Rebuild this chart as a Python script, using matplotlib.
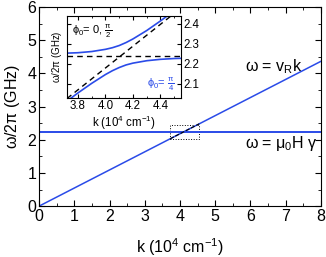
import matplotlib
matplotlib.use("Agg")
import matplotlib.pyplot as plt
from matplotlib.patches import Rectangle

plt.rcParams['font.family'] = ['Liberation Sans', 'DejaVu Sans']
plt.rcParams['mathtext.fontset'] = 'custom'
plt.rcParams['mathtext.rm'] = 'Liberation Sans'
plt.rcParams['mathtext.it'] = 'Liberation Sans'

blue = '#2a4be8'

# main plot lines (endpoints)
k_line = [0, 8]
w_rayleigh = [0, 4.36]
w_fmr = [2.24, 2.24]

# inset: uncoupled modes and the two coupled branches
k_in = [3.72, 3.80, 3.90, 4.00, 4.05, 4.10, 4.15, 4.20, 4.30, 4.40, 4.50, 4.55]
w_upper = [2.254, 2.256, 2.262, 2.273, 2.281, 2.292, 2.307, 2.325, 2.367, 2.415, 2.466, 2.492]
w_lower = [2.014, 2.055, 2.103, 2.147, 2.166, 2.182, 2.195, 2.204, 2.216, 2.223, 2.227, 2.228]
k_dash = [3.72, 4.55]
w_dash_r = [2.027, 2.480]
w_dash_h = [2.24, 2.24]

fig = plt.figure(figsize=(3.26, 2.57), dpi=100)
ax = fig.add_axes([0.120, 0.198, 0.864, 0.775])

ax.plot(k_line, w_rayleigh, color=blue, lw=1.1)
ax.plot(k_line, w_fmr, color=blue, lw=1.4)
ax.plot(k_dash, w_dash_r, color='k', lw=0.8, ls='--')
ax.add_patch(Rectangle((3.72, 2.03), 0.83, 0.41, fill=False, ls=':', lw=0.7, ec='k'))

ax.set_xlim(0, 8)
ax.set_ylim(0, 6)
ax.set_xticks(range(0, 9))
ax.set_yticks(range(0, 7))
ax.set_xticks([i + 0.5 for i in range(8)], minor=True)
ax.set_yticks([i + 0.5 for i in range(6)], minor=True)
ax.tick_params(which='both', direction='in', top=True, right=True, labelsize=11.5, pad=2)
ax.tick_params(which='major', length=4)
ax.tick_params(which='minor', length=2)
ax.set_xlabel(r'k (10$^4$ cm$^{-1}$)', fontsize=11.5, labelpad=9)
ax.set_ylabel(r'$\omega$/2$\pi$ (GHz)', fontsize=11.5, labelpad=4)

ax.text(5.85, 4.05, r'$\omega$ = v$_R$k', fontsize=11.5)
ax.text(5.85, 1.75, r'$\omega$ = $\mu_0$H $\gamma$', fontsize=11.5)

# inset
ins = fig.add_axes([0.2055, 0.619, 0.350, 0.319])
ins.plot(k_dash, w_dash_h, color='k', lw=1.0, ls='--', dashes=(4, 3))
ins.plot(k_dash, w_dash_r, color='k', lw=1.0, ls='--', dashes=(4, 3))
ins.plot(k_in, w_upper, color=blue, lw=1.2)
ins.plot(k_in, w_lower, color=blue, lw=1.2)
ins.set_xlim(3.72, 4.55)
ins.set_ylim(2.03, 2.44)
ins.set_xticks([3.8, 4.0, 4.2, 4.4])
ins.set_yticks([2.1, 2.2, 2.3, 2.4])
ins.set_xticks([3.9, 4.1, 4.3, 4.5], minor=True)
ins.tick_params(which='both', direction='in', top=True, right=True, labelsize=8.3, pad=1.5,
                labelleft=False, labelright=True, length=3)
ins.tick_params(which='minor', length=1.5)
ins.set_xlabel(r'k (10$^4$ cm$^{-1}$)', fontsize=8.3, labelpad=1)
ins.set_ylabel(r'$\omega$/2$\pi$ (GHz)', fontsize=7, labelpad=2)
ins.text(3.76, 2.35, r'$\phi_0$= 0, $\frac{\pi}{2}$', fontsize=8)
ins.text(4.30, 2.085, r'$\phi_0$= $\frac{\pi}{4}$', fontsize=8, color=blue)

fig.savefig('out.png', dpi=100)
